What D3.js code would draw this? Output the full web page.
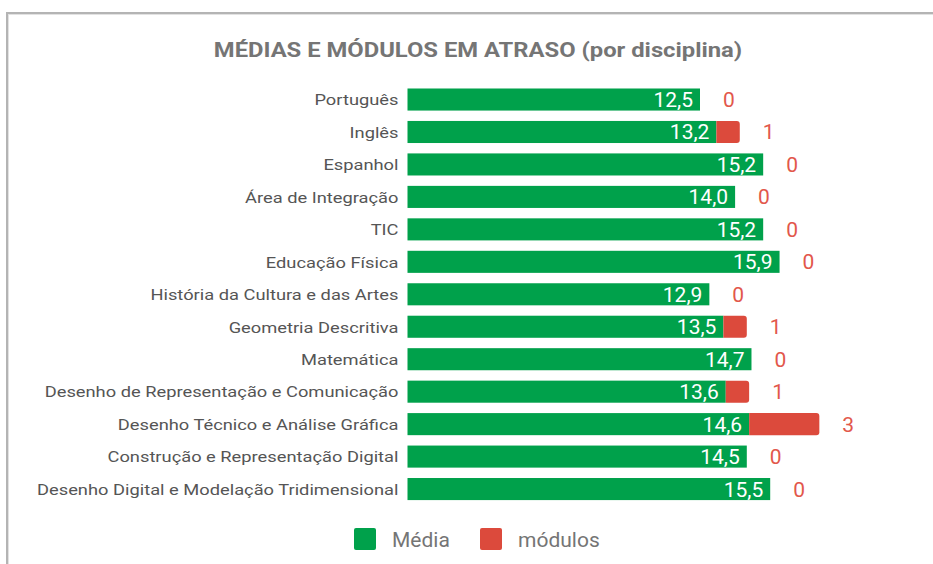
<!DOCTYPE html>
<html>
<head>
<meta charset="utf-8">
<script src="https://cdn.jsdelivr.net/npm/d3@7"></script>
<style>
  html, body { margin: 0; padding: 0; background: #fff; }
  svg { display: block; font-family: Roboto, "Noto Sans", Arial, sans-serif; }
</style>
</head>
<body>
<svg id="chart" width="933" height="564"></svg>
<script>
// Disciplines, shown top to bottom
const categories = [
  "Português",
  "Inglês",
  "Espanhol",
  "Área de Integração",
  "TIC",
  "Educação Física",
  "História da Cultura e das Artes",
  "Geometria Descritiva",
  "Matemática",
  "Desenho de Representação e Comunicação",
  "Desenho Técnico e Análise Gráfica",
  "Construção e Representação Digital",
  "Desenho Digital e Modelação Tridimensional"
];
// Average grade per discipline
const media = [12.5, 13.2, 15.2, 14.0, 15.2, 15.9, 12.9, 13.5, 14.7, 13.6, 14.6, 14.5, 15.5];
// Number of modules in arrears per discipline
const modulos = [0, 1, 0, 0, 0, 0, 0, 1, 0, 1, 3, 0, 0];
const seriesNames = ["Média", "módulos"];
const title = "MÉDIAS E MÓDULOS EM ATRASO (por disciplina)";

const colors = { media: "#00a14b", modulos: "#dc4a3c", modLabel: "#e2574b" };

const svg = d3.select("#chart");

// Frame lines (top and left)
svg.append("rect").attr("x", 6).attr("y", 12).attr("width", 927).attr("height", 2).attr("fill", "#b4b4b4");
svg.append("rect").attr("x", 6).attr("y", 12).attr("width", 2).attr("height", 552).attr("fill", "#b4b4b4");
svg.append("rect").attr("x", 8).attr("y", 14).attr("width", 925).attr("height", 1).attr("fill", "#e2e2e2");
svg.append("rect").attr("x", 8).attr("y", 14).attr("width", 1).attr("height", 550).attr("fill", "#e2e2e2");

// Title (set slightly wide)
svg.append("text")
  .attr("transform", "translate(478,57) scale(1.19,1)")
  .attr("text-anchor", "middle")
  .attr("font-size", 20).attr("font-weight", "bold")
  .attr("fill", "#757575")
  .text(title);

const x = d3.scaleLinear().domain([0, 20]).range([407.5, 407.5 + 468]);
const y = d3.scaleBand().domain(categories).range([83.3, 83.3 + 13 * 32.46])
  .paddingInner(0.32).paddingOuter(0.16);

const data = categories.map((c, i) => ({ c, m: media[i], k: modulos[i] }));

// Category axis (labels only, set wide)
const yAxis = d3.axisLeft(y).tickSize(0).tickPadding(0);
const gy = svg.append("g").attr("transform", `translate(${x(0) - 9},1)`).call(yAxis);
gy.select(".domain").remove();
gy.selectAll("text")
  .attr("x", null)
  .attr("transform", "scale(1.22,1)")
  .attr("font-family", "Roboto, 'Noto Sans', Arial, sans-serif")
  .attr("font-size", 15).attr("fill", "#555");

const bh = y.bandwidth();

// Green bars: average
svg.append("g").selectAll("rect").data(data).join("rect")
  .attr("x", x(0))
  .attr("y", d => y(d.c))
  .attr("width", d => x(d.m) - x(0))
  .attr("height", bh)
  .attr("fill", colors.media);

// Red bars: modules in arrears, stacked after the average
function roundRight(x0, y0, w, h, r) {
  r = Math.min(r, w);
  return `M${x0},${y0}H${x0 + w - r}Q${x0 + w},${y0} ${x0 + w},${y0 + r}` +
    `V${y0 + h - r}Q${x0 + w},${y0 + h} ${x0 + w - r},${y0 + h}H${x0}Z`;
}
svg.append("g").selectAll("path").data(data.filter(d => d.k > 0)).join("path")
  .attr("d", d => roundRight(x(d.m), y(d.c), x(d.m + d.k) - x(d.m), bh, 3))
  .attr("fill", colors.modulos);

const fmt = v => d3.format(".1f")(v).replace(".", ",");

// Average labels inside bars
svg.append("g").selectAll("text").data(data).join("text")
  .attr("x", d => x(d.m) - 7)
  .attr("y", d => y(d.c) + bh / 2 + 7.5)
  .attr("text-anchor", "end")
  .attr("font-size", 21)
  .attr("fill", "#fff")
  .text(d => fmt(d.m));

// Module count labels after bars
svg.append("g").selectAll("text").data(data).join("text")
  .attr("x", d => x(d.m + d.k) + 23)
  .attr("y", d => y(d.c) + bh / 2 + 7.5)
  .attr("text-anchor", "start")
  .attr("font-size", 21)
  .attr("fill", colors.modLabel)
  .text(d => d.k);

// Legend
const legend = svg.append("g");
const legItems = [
  { name: seriesNames[0], color: colors.media, x: 354 },
  { name: seriesNames[1], color: colors.modulos, x: 480 }
];
legItems.forEach(it => {
  legend.append("rect").attr("x", it.x).attr("y", 528).attr("width", 22).attr("height", 22)
    .attr("rx", 2).attr("fill", it.color);
  legend.append("text").attr("x", it.x + 38).attr("y", 546.5)
    .attr("font-size", 21).attr("fill", "#757575").text(it.name);
});
</script>
</body>
</html>
